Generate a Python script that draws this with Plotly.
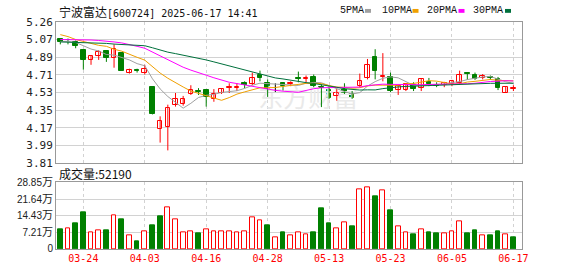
import plotly.graph_objects as go

# ---------------- data ----------------
dates = ["03-19", "03-20", "03-21", "03-24", "03-25", "03-26", "03-27", "03-28", "03-31",
         "04-01", "04-02", "04-03", "04-07", "04-08", "04-09", "04-10", "04-11", "04-14",
         "04-15", "04-16", "04-17", "04-18", "04-21", "04-22", "04-23", "04-24", "04-25",
         "04-28", "04-29", "04-30", "05-06", "05-07", "05-08", "05-09", "05-12", "05-13",
         "05-14", "05-15", "05-16", "05-19", "05-20", "05-21", "05-22", "05-23", "05-26",
         "05-27", "05-28", "05-29", "05-30", "06-03", "06-04", "06-05", "06-06", "06-09",
         "06-10", "06-11", "06-12", "06-13", "06-16", "06-17"]

opens = [5.09, 5.08, 5.05, 4.97, 4.87, 4.91, 4.96, 4.89, 4.94, 4.74,
         4.765, 4.74, 4.59, 4.16, 4.18, 4.41, 4.42, 4.52, 4.55, 4.56,
         4.47, 4.53, 4.58, 4.585, 4.63, 4.62, 4.72, 4.63, 4.56, 4.63,
         4.625, 4.685, 4.675, 4.69, 4.59, 4.56, 4.50, 4.58, 4.52, 4.60,
         4.685, 4.905, 4.695, 4.69, 4.56, 4.56, 4.615, 4.585, 4.64, 4.615,
         4.615, 4.62, 4.635, 4.735, 4.715, 4.685, 4.69, 4.675, 4.535, 4.575]
highs = [5.09, 5.09, 5.07, 4.97, 4.91, 4.97, 4.96, 5.03, 4.95, 4.78,
         4.78, 4.82, 4.59, 4.29, 4.41, 4.53, 4.50, 4.61, 4.58, 4.57,
         4.57, 4.58, 4.63, 4.63, 4.65, 4.74, 4.76, 4.67, 4.63, 4.64,
         4.65, 4.75, 4.71, 4.72, 4.62, 4.60, 4.57, 4.63, 4.55, 4.73,
         4.88, 4.98, 4.94, 4.74, 4.61, 4.63, 4.64, 4.68, 4.685, 4.64,
         4.645, 4.665, 4.76, 4.74, 4.74, 4.725, 4.71, 4.695, 4.60, 4.61]
lows = [5.03, 5.03, 4.99, 4.77, 4.82, 4.87, 4.85, 4.79, 4.76, 4.73,
        4.74, 4.72, 4.31, 4.02, 3.94, 4.39, 4.40, 4.51, 4.51, 4.39,
        4.44, 4.52, 4.53, 4.55, 4.58, 4.61, 4.65, 4.49, 4.54, 4.555,
        4.60, 4.64, 4.635, 4.59, 4.385, 4.47, 4.45, 4.52, 4.47, 4.59,
        4.67, 4.67, 4.65, 4.54, 4.51, 4.55, 4.55, 4.55, 4.60, 4.59,
        4.59, 4.60, 4.62, 4.665, 4.665, 4.67, 4.665, 4.56, 4.53, 4.55]
closes = [5.05, 5.07, 5.01, 4.87, 4.91, 4.95, 4.89, 4.98, 4.76, 4.77,
          4.76, 4.78, 4.31, 4.24, 4.38, 4.47, 4.47, 4.56, 4.54, 4.49,
          4.52, 4.57, 4.59, 4.595, 4.61, 4.68, 4.68, 4.57, 4.56, 4.60,
          4.635, 4.675, 4.685, 4.60, 4.58, 4.48, 4.53, 4.535, 4.475, 4.65,
          4.815, 4.76, 4.705, 4.55, 4.60, 4.62, 4.57, 4.675, 4.62, 4.605,
          4.635, 4.655, 4.72, 4.725, 4.675, 4.70, 4.68, 4.585, 4.59, 4.585]

volumes = [84400, 88600, 109700, 160400, 70400, 80200, 80200, 146300, 126600, 59100,
           33800, 76000, 101300, 143500, 180100, 126600, 70400, 74600, 67500, 84400,
           76000, 76000, 76000, 71800, 76000, 137900, 122400, 101300, 49200, 71800,
           59100, 70400, 63300, 71800, 177300, 109700, 88600, 116800, 97100, 260300,
           268700, 227900, 253300, 168800, 99900, 70400, 63300, 87200, 71800, 67500,
           66100, 74600, 121000, 67500, 80200, 59100, 59100, 76000, 61900, 52190]
vol_up = [0, 1, 0, 0, 1, 1, 0, 1, 0, 1,
          0, 1, 0, 0, 1, 1, 1, 1, 0, 1,
          1, 1, 1, 1, 1, 1, 1, 0, 1, 0,
          1, 1, 1, 0, 0, 0, 1, 1, 0, 1,
          1, 0, 1, 0, 1, 1, 0, 1, 0, 0,
          1, 1, 1, 0, 0, 1, 0, 0, 1, 0]

# moving-average values before enough in-window closes exist
ma5_head = [5.06, 5.06, 5.05, 5.02]
ma10_head = [5.13, 5.11, 5.08, 5.06, 5.04, 5.02, 5.01, 4.98, 4.96]
ma20_head = [5.08, 5.08, 5.08, 5.08, 5.075, 5.07, 5.065, 5.055, 5.045, 5.03,
             5.01, 4.99, 4.95, 4.91, 4.87, 4.83, 4.795, 4.765, 4.735]
ma30_head = [5.055, 5.053, 5.05, 5.048, 5.046, 5.044, 5.04, 5.033, 5.028, 5.024,
             5.02, 5.016, 4.995, 4.97, 4.95, 4.935, 4.92, 4.905, 4.89, 4.87,
             4.85, 4.83, 4.81, 4.79, 4.77, 4.75, 4.725, 4.705, 4.685]

label_dates = ["03-24", "04-03", "04-16", "04-28", "05-13", "05-23", "06-05", "06-17"]
price_labels = ["3.81", "3.99", "4.17", "4.35", "4.53", "4.71", "4.89", "5.07", "5.26"]
vol_labels = ["0", "7.21万", "14.43万", "21.64万", "28.85万"]
price_min, price_max = 3.81, 5.26
vol_max = 288500

title_name = "宁波富达"
title_rest = "[600724] 2025-06-17 14:41"
vol_title = "成交量:52190"
ma_names = ["5PMA", "10PMA", "20PMA", "30PMA"]
watermark = "东方财富"

# ---------------- styling ----------------
RED = "#ff0000"
GREEN = "#008000"
MA_COLORS = ["#a0a0a0", "#f0a000", "#ff00ff", "#00703c"]
GRID = "#d2d2d2"
BORDER = "#999999"
PLOT_L, PLOT_R, PLOT_T, PLOT_B = 56, 522, 20, 255
W, H = 578, 276

n = len(closes)
xs = list(range(n))
tick_idx = [dates.index(d) for d in label_dates]


def moving_average(head, period):
    out = list(head)
    for i in range(len(head), n):
        out.append(sum(closes[i - period + 1:i + 1]) / period)
    return out


mas = [moving_average(ma5_head, 5), moving_average(ma10_head, 10),
       moving_average(ma20_head, 20), moving_average(ma30_head, 30)]

fig = go.Figure()

# faint watermark (drawn first so it sits beneath the data)
fig.add_trace(go.Scatter(x=[32.3], y=[4.455], mode="text", text=[watermark],
                         textfont=dict(size=25, color="#e9e9e9", family="Noto Sans CJK SC"),
                         hoverinfo="skip", xaxis="x", yaxis="y"))

# candle colouring
def ccolor(i):
    if closes[i] > opens[i]:
        return RED
    if closes[i] < opens[i]:
        return GREEN
    return "#000000"

# wicks
for col in (RED, GREEN, "#000000"):
    wx, wy = [], []
    for i in range(n):
        if ccolor(i) == col:
            wx += [i, i, None]
            wy += [lows[i], highs[i], None]
    if wx:
        fig.add_trace(go.Scatter(x=wx, y=wy, mode="lines", line=dict(color=col, width=1),
                                 hoverinfo="skip", xaxis="x", yaxis="y"))

# bodies
for col, fill in ((RED, "#ffffff"), (GREEN, GREEN), ("#000000", "#000000")):
    bx, bb, bh = [], [], []
    for i in range(n):
        if ccolor(i) == col:
            lo = min(opens[i], closes[i])
            hi = max(opens[i], closes[i])
            bx.append(i)
            bb.append(lo)
            bh.append(max(hi - lo, 0.003))
    if bx:
        fig.add_trace(go.Bar(x=bx, y=bh, base=bb, width=0.6,
                             marker=dict(color=fill, line=dict(color=col, width=1)),
                             hoverinfo="skip", xaxis="x", yaxis="y"))

# moving averages
for vals, col in zip(mas, MA_COLORS):
    fig.add_trace(go.Scatter(x=xs, y=vals, mode="lines", line=dict(color=col, width=1),
                             hoverinfo="skip", xaxis="x", yaxis="y"))

# volume
for up, col, fill in ((1, RED, "#ffffff"), (0, GREEN, GREEN)):
    vx = [i for i in range(n) if vol_up[i] == up]
    vy = [volumes[i] for i in vx]
    fig.add_trace(go.Bar(x=vx, y=vy, width=0.62,
                         marker=dict(color=fill, line=dict(color=col, width=1)),
                         hoverinfo="skip", xaxis="x2", yaxis="y2"))

plot_h = PLOT_B - PLOT_T
main_bottom = (PLOT_B - 166) / plot_h
vol_top = (PLOT_B - 186) / plot_h
xrange = [-0.56, 60.12]

price_ticks = [price_min + k * (price_max - price_min) / 8 for k in range(9)]
vol_ticks = [k * vol_max / 4 for k in range(5)]
vol_ticktext = [t if t == "0" else t[:-1] + '<span style="font-family:Noto Sans CJK SC;font-size:11px">万</span>'
                for t in vol_labels]

axis_common = dict(showline=True, mirror=True, linecolor=BORDER, linewidth=1,
                   zeroline=False, ticks="", fixedrange=True)

fig.update_layout(
    width=W, height=H,
    margin=dict(l=PLOT_L, r=W - PLOT_R, t=PLOT_T, b=H - PLOT_B),
    paper_bgcolor="white", plot_bgcolor="white",
    showlegend=False, barmode="overlay", hovermode=False, bargap=0,
    xaxis=dict(domain=[0, 1], anchor="y", range=xrange, tickvals=tick_idx,
               showticklabels=False, showgrid=True, gridcolor=GRID, griddash="3px,3px",
               **axis_common),
    yaxis=dict(domain=[main_bottom, 1], anchor="x", range=[price_min, price_max],
               tickvals=price_ticks, ticktext=price_labels, showgrid=True, gridcolor=GRID,
               tickfont=dict(family="DejaVu Sans Mono", size=11, color="#222222"),
               **axis_common),
    xaxis2=dict(domain=[0, 1], anchor="y2", range=xrange, tickvals=tick_idx,
                ticktext=label_dates, showgrid=True, gridcolor=GRID, griddash="3px,3px",
                tickfont=dict(family="DejaVu Sans Mono", size=10, color=RED),
                **axis_common),
    yaxis2=dict(domain=[0, vol_top], anchor="x2", range=[0, vol_max],
                tickvals=vol_ticks, ticktext=vol_ticktext, showgrid=True, gridcolor=GRID,
                tickfont=dict(family="Liberation Sans", size=10, color="#222222"),
                **axis_common),
)


def px_x(p):
    return (p - PLOT_L) / (PLOT_R - PLOT_L)


def px_y(p):
    return (PLOT_B - p) / plot_h


annotations = [
    dict(x=px_x(57), y=px_y(9.5), xref="paper", yref="paper", xanchor="left", yanchor="middle",
         showarrow=False,
         text='<span style="font-family:Noto Sans CJK SC;font-size:12px">' + title_name + "</span>" + title_rest,
         font=dict(family="DejaVu Sans Mono", size=10, color="#111111")),
    dict(x=px_x(57), y=px_y(176.5), xref="paper", yref="paper", xanchor="left", yanchor="middle",
         showarrow=False, text=vol_title,
         font=dict(family="Noto Sans CJK SC", size=12, color="#111111")),
]

legend_label_x = [338, 380, 425, 471]
legend_square_x = [365, 412.5, 458.5, 505]
shapes = []
for name, lx, sx, col in zip(ma_names, legend_label_x, legend_square_x, MA_COLORS):
    annotations.append(dict(x=px_x(lx), y=px_y(8.5), xref="paper", yref="paper",
                            xanchor="left", yanchor="middle", showarrow=False, text=name,
                            font=dict(family="Liberation Mono", size=10, color="#111111")))
    shapes.append(dict(type="rect", xref="paper", yref="paper",
                       x0=px_x(sx), x1=px_x(sx + 6), y0=px_y(10.5), y1=px_y(6.5),
                       fillcolor=col, line=dict(width=0)))

fig.update_layout(annotations=annotations, shapes=shapes)

fig.write_html("out.html")
